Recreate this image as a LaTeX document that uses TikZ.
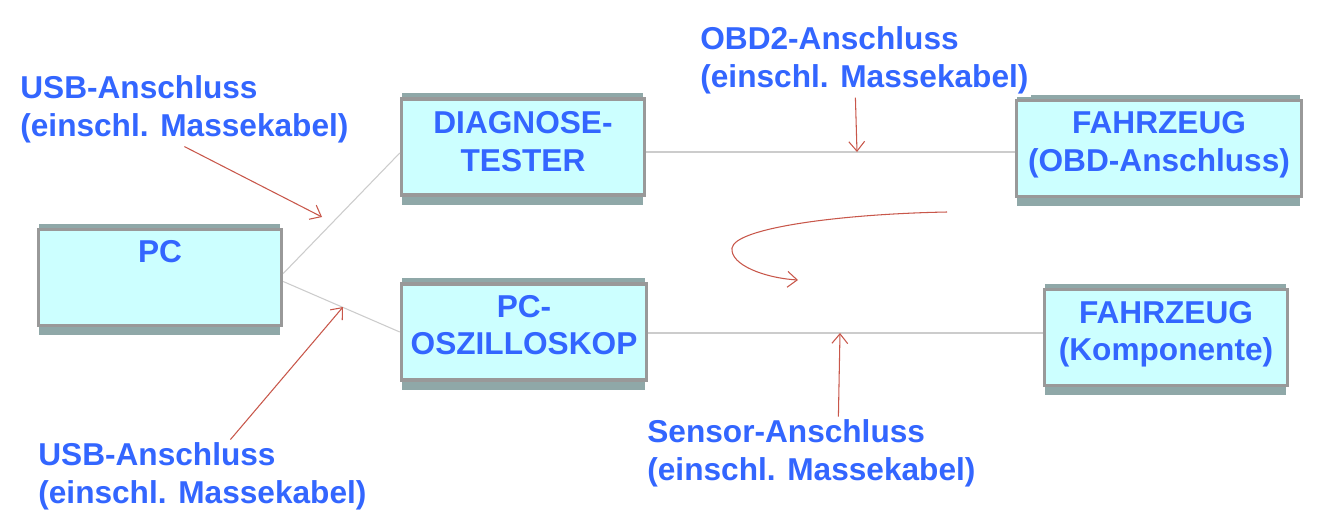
\documentclass[tikz,border=0pt]{standalone}
\usepackage{fontspec}
\setmainfont{Liberation Sans}
\usetikzlibrary{arrows.meta,backgrounds}

\definecolor{boxfill}{HTML}{CCFFFF}
\definecolor{boxline}{HTML}{999999}
\definecolor{boxback}{HTML}{8FA8A8}
\definecolor{txtblue}{HTML}{3366FF}
\definecolor{wiregray}{HTML}{CCCCCC}
\definecolor{arrred}{HTML}{C8574A}

\tikzset{
  bigtext/.style={font=\bfseries\fontsize{18}{21.5}\selectfont, text=txtblue},
  device/.style={draw=boxline, line width=2pt, fill=boxfill, minimum width=4.86cm, minimum height=1.92cm},
  devtext/.style={bigtext, align=center, inner sep=0pt},
  note/.style={bigtext, align=left, fill=white, inner sep=0.06cm, anchor=north west},
  wire/.style={draw=wiregray, line width=0.6pt},
  pointer/.style={draw=arrred, line width=0.6pt, -{Straight Barb[length=5.5pt,width=9pt]}}
}

\begin{document}
\begin{tikzpicture}
\begin{scope}[x=0.02cm, y=-0.02cm]
\useasboundingbox (0,0) rectangle (1319,514);

% boxes
\node[device] (pc) at (160,277.5) {};
\node[device] (diag) at (523,147) {};
\node[device, minimum width=4.9cm] (osz) at (524,332) {};
\node[device, minimum width=5.7cm] (obd) at (1159,148.5) {};
\node[device] (komp) at (1166,337.5) {};

% the darker plate behind every box
\begin{scope}[on background layer]
\fill[white] (0,0) rectangle (1319,514);
\foreach \b in {pc,diag,osz,obd,komp}
  \fill[boxback] ([xshift=0.04cm,yshift=0.08cm]\b.north west) rectangle ([xshift=-0.06cm,yshift=-0.16cm]\b.south east);
\end{scope}

\node[devtext] (pc-txt) at (160,252) {PC};
\node[devtext] (diag-txt) at (523,141.5) {DIAGNOSE-\\TESTER};
\node[devtext] (osz-txt) at (524,325) {PC-\\OSZILLOSKOP};
\node[devtext] (obd-txt) at (1159,145) {FAHRZEUG\\(OBD-Anschluss)};
\node[devtext] (komp-txt) at (1166,334.3) {FAHRZEUG\\(Komponente)};

% where the cables meet the lines
\coordinate (obd-in) at (857,152);
\coordinate (sens-in) at (840,333);
\coordinate (usb1-tip) at (322,217);
\coordinate (usb2-tip) at (343,307);
\coordinate (loop-a) at (947,212);
\coordinate (loop-b) at (798,280);

% connections
\draw[wire] ([yshift=0.08cm]pc.east) -- ([yshift=-0.12cm]diag.west);
\draw[wire] ([yshift=-0.08cm]pc.east) -- (osz.west);
\draw[wire] (diag.east |- obd-in) -- (obd.west |- obd-in);
\draw[wire] (osz.east |- sens-in) -- (komp.west |- sens-in);

% labels
\node[note] (usb1) at (17,72.6) {USB-Anschluss\\(einschl. Massekabel)};
\node[note] (obd2) at (697,23.6) {OBD2-Anschluss\\(einschl. Massekabel)};
\node[note] (sens) at (644,416.6) {Sensor-Anschluss\\(einschl. Massekabel)};
\node[note] (usb2) at (35,439.6) {USB-Anschluss\\(einschl. Massekabel)};

\draw[pointer] (usb1.south) -- (usb1-tip);
\draw[pointer] ([xshift=0.56cm]usb2.north) -- (usb2-tip);
\draw[pointer] ([xshift=-0.18cm]obd2.south) -- (obd-in);
\draw[pointer] ([xshift=0.54cm]sens.north) -- (sens-in);
\draw[pointer] (loop-a) .. controls (840,214) and (735,228) .. (732,248)
  .. controls (730,265) and (765,278) .. (loop-b);

\end{scope}
\end{tikzpicture}
\end{document}
